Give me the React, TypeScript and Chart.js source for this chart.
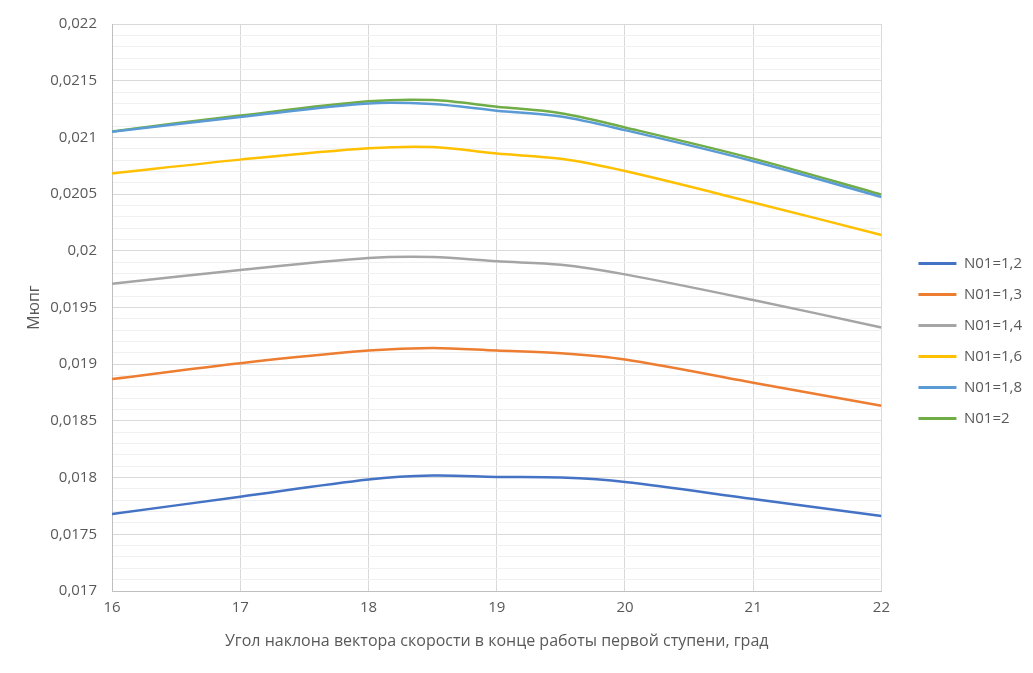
import React, { useEffect, useRef } from "react";
import { Chart, registerables } from "chart.js";

Chart.register(...registerables);

const xValues = [16, 17, 18, 18.5, 19, 19.5, 20, 21, 22];
const n12 = [0.017679, 0.017831, 0.017983, 0.018018, 0.018006, 0.018, 0.017962, 0.017811, 0.017662];
const n13 = [0.018869, 0.019009, 0.01912, 0.019143, 0.01912, 0.019096, 0.019041, 0.018837, 0.018633];
const n14 = [0.019709, 0.019831, 0.019936, 0.019945, 0.019907, 0.019877, 0.019792, 0.019566, 0.019324];
const n16 = [0.020682, 0.020804, 0.020904, 0.020915, 0.020857, 0.020811, 0.020703, 0.020426, 0.02014];
const n18 = [0.02105, 0.02118, 0.0213, 0.021294, 0.021236, 0.021184, 0.021064, 0.02079, 0.020475];
const n20 = [0.021053, 0.021193, 0.021318, 0.021329, 0.021271, 0.021213, 0.021088, 0.020813, 0.020495];

const seriesNames = ["N01=1,2", "N01=1,3", "N01=1,4", "N01=1,6", "N01=1,8", "N01=2"];
const seriesValues = [n12, n13, n14, n16, n18, n20];
const seriesColors = ["#4472C4", "#ED7D31", "#A5A5A5", "#FFC000", "#5B9BD5", "#70AD47"];

const xTitle = "Угол наклона вектора скорости в конце работы первой ступени, град";
const yTitle = "Мюпг";

export default function App() {
  const ref = useRef<HTMLCanvasElement | null>(null);
  useEffect(() => {
    if (!ref.current) return;
    const font = '"Open Sans", sans-serif';
    const chart = new Chart(ref.current, {
      type: "line",
      data: {
        datasets: seriesNames.map((name, i) => ({
          label: name,
          data: xValues.map((x, j) => ({ x, y: seriesValues[i][j] })),
          borderColor: seriesColors[i],
          backgroundColor: seriesColors[i],
          borderWidth: 2.5,
          pointRadius: 0,
          tension: 0.33,
          fill: false,
        })),
      },
      options: {
        animation: false,
        responsive: false,
        layout: { padding: { left: 0, right: 22, top: 9, bottom: 0 } },
        plugins: {
          tooltip: { enabled: false },
          legend: {
            position: "right",
            labels: {
              font: { family: font, size: 15 },
              color: "#595959",
              boxWidth: 38,
              boxHeight: 3,
              padding: 16,
              generateLabels: (c: any) =>
                Chart.defaults.plugins.legend.labels.generateLabels(c).map((l: any) => ({
                  ...l,
                  fillStyle: l.strokeStyle,
                  lineWidth: 0,
                })),
            },
          },
        },
        scales: {
          x: {
            type: "linear",
            min: 16,
            max: 22,
            afterFit: (s: any) => {
              s.height = 82;
            },
            ticks: {
              stepSize: 1,
              padding: 8,
              color: "#595959",
              font: { family: font, size: 15 },
            },
            grid: { color: "#d9d9d9", drawTicks: false },
            border: { color: "#bfbfbf", width: 1 },
            title: {
              display: true,
              text: xTitle,
              color: "#595959",
              font: { family: font, size: 16 },
              padding: { top: 4, bottom: 22 },
            },
          },
          y: {
            min: 0.017,
            max: 0.022,
            afterFit: (s: any) => {
              s.width = 112;
            },
            ticks: {
              stepSize: 0.0001,
              autoSkip: false,
              padding: 15,
              color: "#595959",
              font: { family: font, size: 15 },
              callback: (v: any) => {
                const k = Math.round(Number(v) * 10000);
                if (k % 5 !== 0) return "";
                return String(Number(Number(v).toFixed(4))).replace(".", ",");
              },
            },
            grid: {
              drawTicks: false,
              color: (ctx: any) => {
                const v = ctx.tick ? ctx.tick.value : 0;
                const k = Math.round(v * 10000);
                return k % 5 === 0 ? "#d9d9d9" : "#f0f0f0";
              },
            },
            border: { color: "#bfbfbf", width: 1 },
            title: {
              display: true,
              text: yTitle,
              color: "#595959",
              font: { family: font, size: 16 },
              padding: { top: 25, bottom: 4 },
            },
          },
        },
      },
      plugins: [
        {
          id: "legendShift",
          afterLayout(c: any) {
            const l = c.legend;
            if (l) {
              l.left += 21;
              l.right += 21;
            }
          },
        },
      ],
    } as any);
    return () => chart.destroy();
  }, []);
  return (
    <div style={{ position: "fixed", left: 0, top: 0, width: 1033, height: 673, background: "#fff" }}>
      <canvas ref={ref} width={1033} height={673} />
    </div>
  );
}
